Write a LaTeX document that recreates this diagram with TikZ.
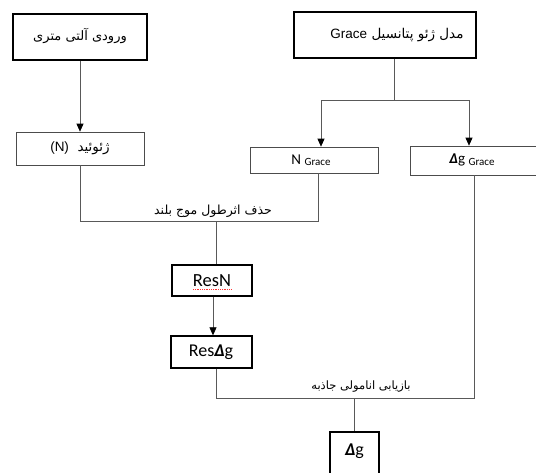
\documentclass[tikz,border=0pt]{standalone}
\usepackage{fontspec}
\setmainfont{Carlito}
\newfontfamily\arabicfont[Script=Arabic]{DejaVu Sans}
\newfontfamily\latinsans{Liberation Sans}
\TeXXeTstate=1
\usetikzlibrary{arrows.meta}
\begin{document}
\begin{tikzpicture}[x=1pt,y=-1pt,
  thickbox/.style={draw=black,line width=1.3pt,inner sep=0pt,minimum width=#1},
  thinbox/.style={draw=black!70,line width=0.7pt,inner sep=0pt,minimum width=#1},
  conn/.style={draw=black!65,line width=0.7pt},
  arr/.style={conn,-{Triangle[width=7pt,length=8pt,black]}},
  fa/.style={font=\arabicfont\fontsize{#1}{14}\selectfont,inner sep=0pt},
  fa/.default=13
]
\useasboundingbox (0,0) rectangle (536,472);
\clip (0,0) rectangle (536,472);
% boxes
\node[thickbox=134pt,minimum height=46pt] (alt) at (80,37) {};
\node[fa=13] (altt) at (80,36) {\beginR ورودی آلتی متری\endR};
\node[thinbox=128pt,minimum height=33pt] (geo) at (80,148.5) {};
\node[fa=13.5] (geot) at (80,148) {\beginR ژئوئید\ \ \beginL{\latinsans(N)}\endL\endR};
\node[thickbox=182pt,minimum height=46pt] (grace) at (385,35) {};
\node[fa=13.5] (gracet) at (397,35) {\beginR مدل ژئو پتانسیل \beginL{\latinsans Grace}\endL\endR};
\node[thinbox=128pt,minimum height=26pt] (ng) at (314,160) {};
\node[inner sep=0pt] (ngt) at (311,160) {\fontsize{15}{18}\selectfont N {\fontsize{11}{12}\selectfont\raisebox{-1.5pt}{Grace}}};
\node[thinbox=130pt,minimum height=29pt] (dgg) at (475,160.5) {};
\node[inner sep=0pt] (dggt) at (472,160) {\fontsize{15}{18}\selectfont\textbf{\textit{Δ}}g {\fontsize{11}{12}\selectfont\raisebox{-1.5pt}{Grace}}};
\node[thickbox=80pt,minimum height=31pt] (resn) at (212,280.5) {};
\node[inner sep=0pt] (resnt) at (212,281) {\fontsize{18.5}{20}\selectfont ResN};
\node[thickbox=81pt,minimum height=32pt] (resdg) at (211.5,352) {};
\node[inner sep=0pt] (resdgt) at (211,352) {\fontsize{18}{20}\selectfont Res\textbf{\textit{Δ}}g};
\node[thickbox=49pt,minimum height=48pt] (dg) at (354.5,456) {};
\node[inner sep=0pt] (dgt) at (354.5,451) {\fontsize{18}{20}\selectfont\textbf{\textit{Δ}}g};
% spell-check underline
\draw[red!80,line width=0.8pt,densely dotted] (193,289.5) -- (231,289.5);
% junction coordinates
\coordinate (j1) at (394,100);
\coordinate (j1l) at (321,100);
\coordinate (j1r) at (469,100);
\coordinate (j2l) at (80,221);
\coordinate (j2r) at (318,221);
\coordinate (j2m) at (216,221);
\coordinate (j3l) at (216,398);
\coordinate (j3r) at (474,398);
\coordinate (j3m) at (354,398);
% connectors
\draw[arr] (alt.south) -- (geo.north);
\draw[conn] (grace.south -| j1) -- (j1);
\draw[conn] (j1l) -- (j1r);
\draw[arr] (j1l) -- (j1l |- ng.north);
\draw[arr] (j1r) -- (j1r |- dgg.north);
\draw[conn] (geo.south) -- (j2l) -- (j2r) -- (j2r |- ng.south);
\draw[conn] (j2m) -- (j2m |- resn.north);
\draw[arr] (resn.south -| 213,0) -- (resdg.north -| 213,0);
\draw[conn] (resdg.south -| j3l) -- (j3l) -- (j3r) -- (j3r |- dgg.south);
\draw[conn] (j3m) -- (j3m |- dg.north);
% labels
\node[fa=12.5] (l1) at (213,211) {\beginR حذف اثرطول موج بلند\endR};
\node[fa=11.5] (l2) at (361,387) {\beginR بازیابی انامولی جاذبه\endR};
\end{tikzpicture}
\end{document}
